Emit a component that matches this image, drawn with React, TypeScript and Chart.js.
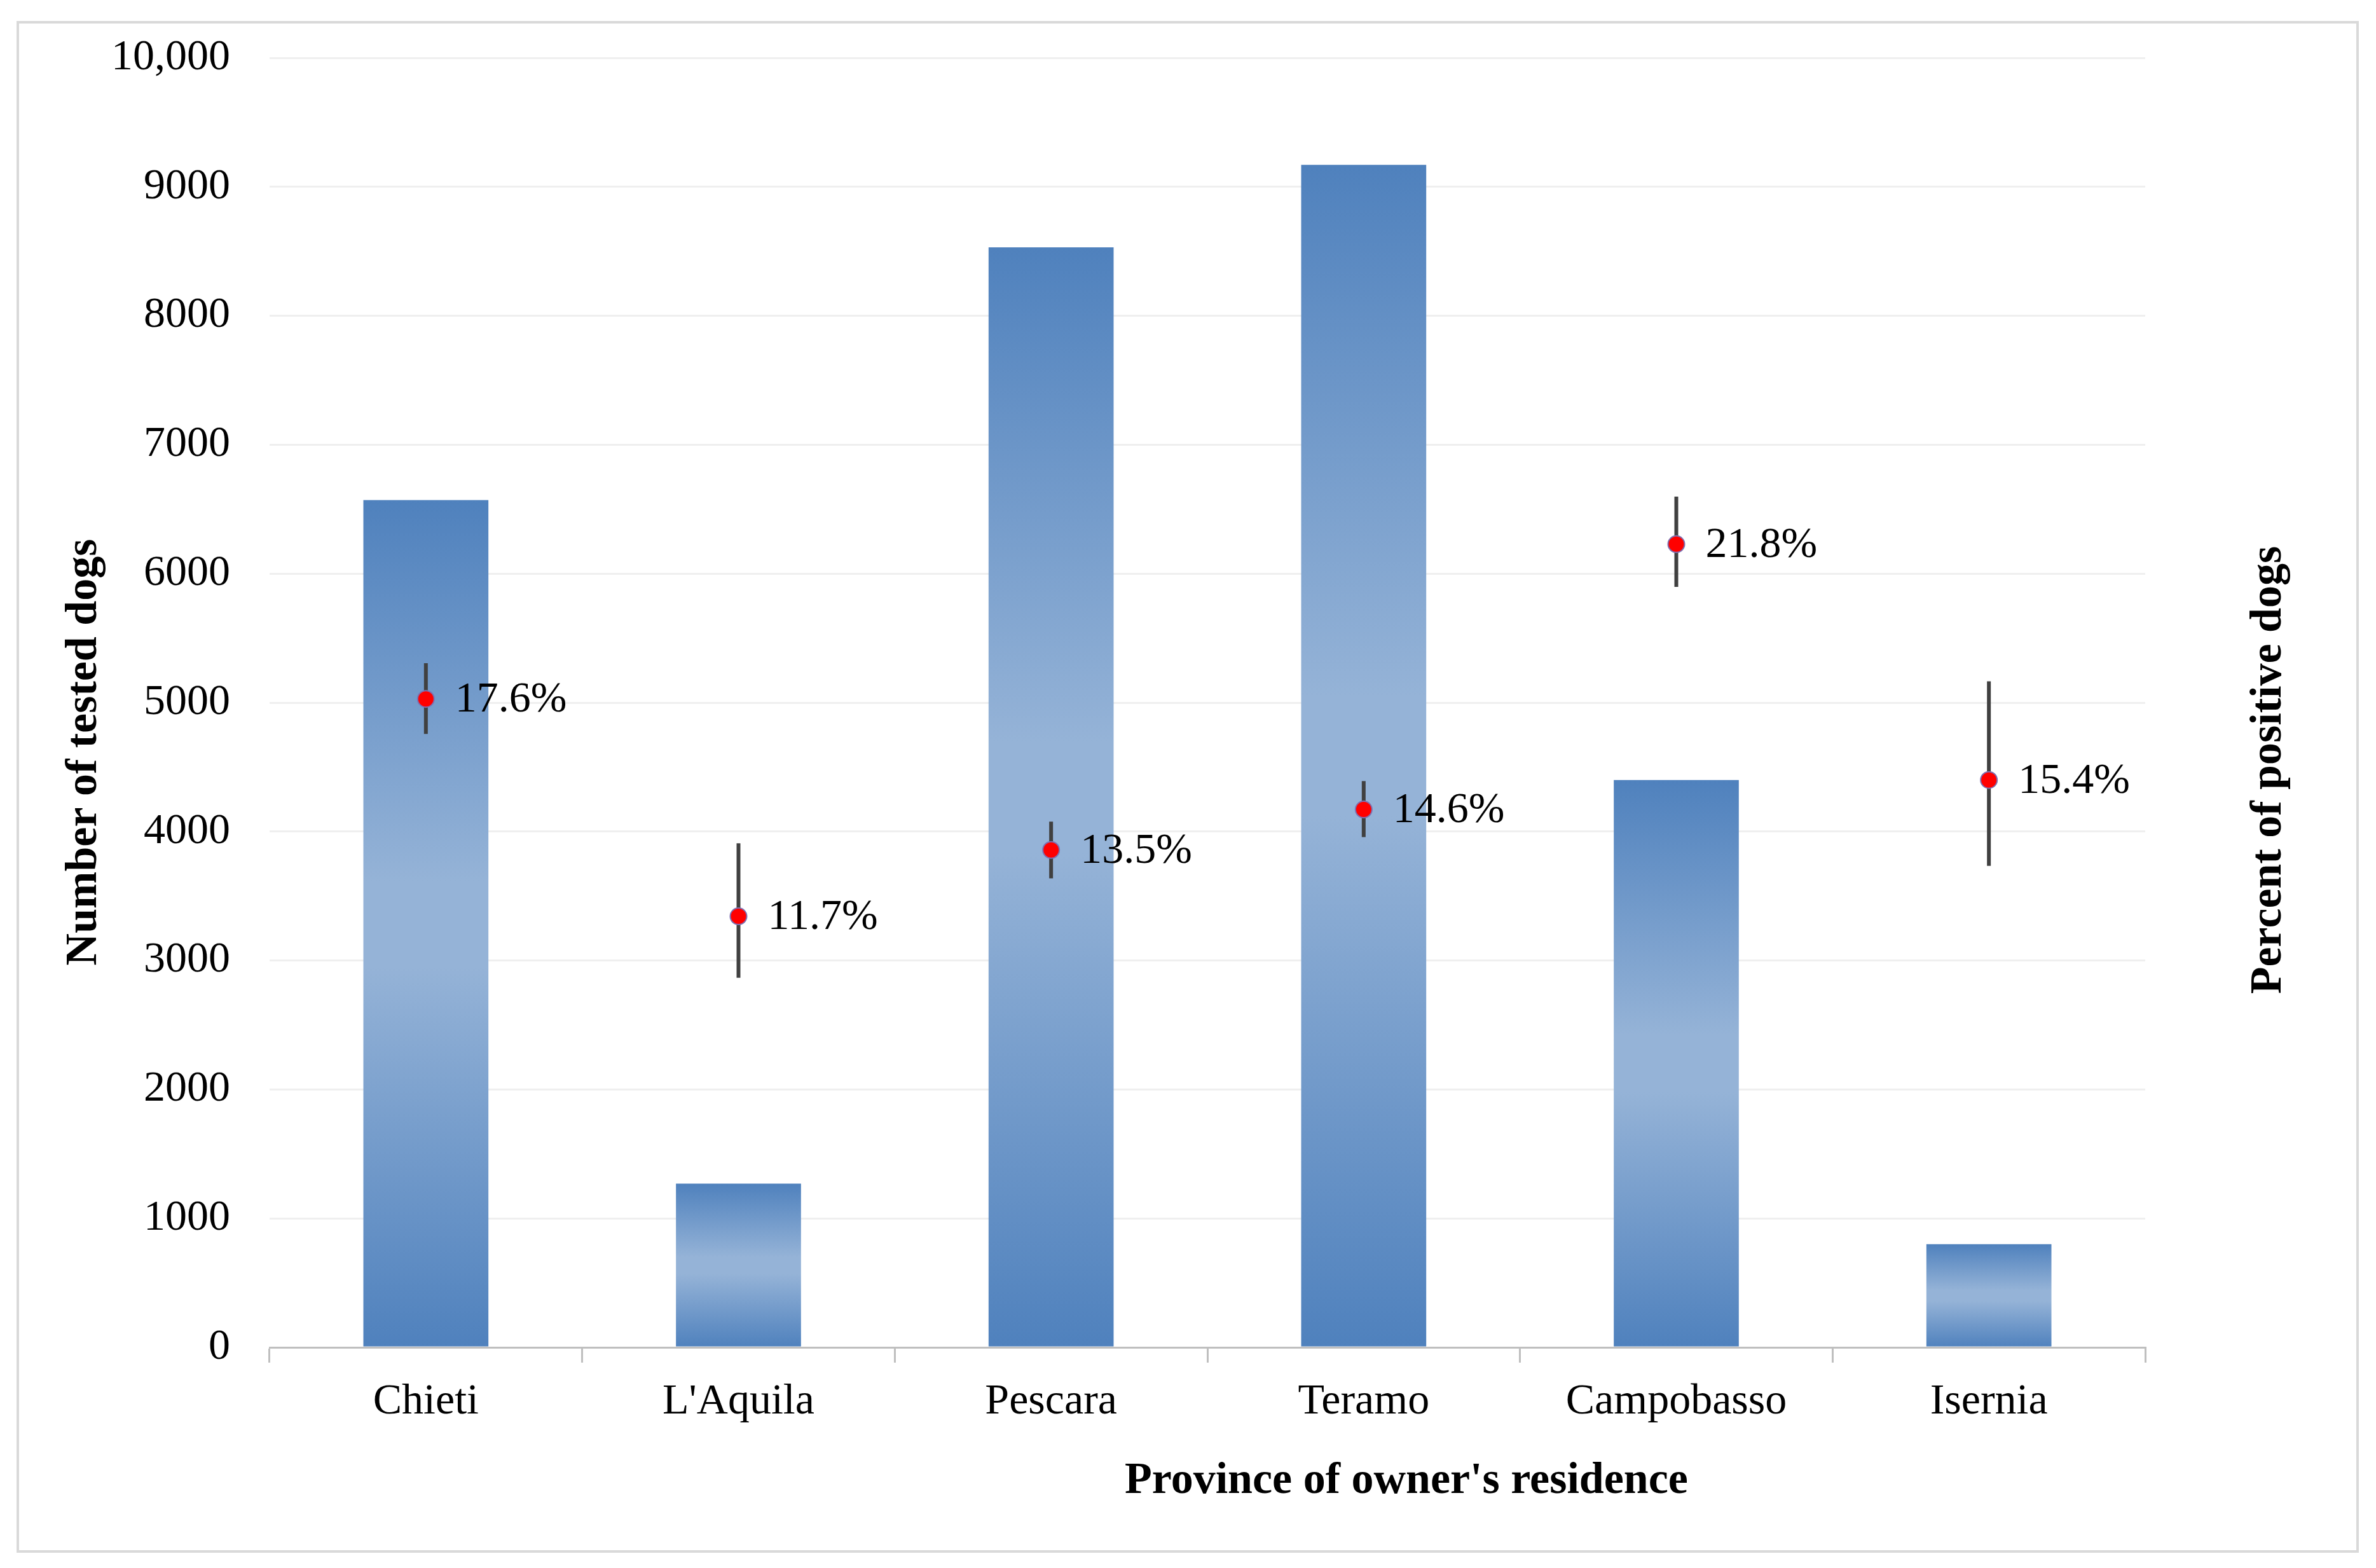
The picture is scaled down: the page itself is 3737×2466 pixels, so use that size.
import React, { useEffect, useRef } from 'react';
import { Chart, registerables } from 'chart.js';

Chart.register(...registerables);

const categories = ['Chieti', "L'Aquila", 'Pescara', 'Teramo', 'Campobasso', 'Isernia'];
const testedDogs = [6570, 1270, 8530, 9170, 4400, 800];
const percentPositive = [17.6, 11.7, 13.5, 14.6, 21.8, 15.4];
const ciLower = [16.65, 10.03, 12.73, 13.85, 20.64, 13.07];
const ciUpper = [18.57, 13.68, 14.27, 15.37, 23.09, 18.08];
const yTickLabels = ['0', '1000', '2000', '3000', '4000', '5000', '6000', '7000', '8000', '9000', '10,000'];
const percentLabels = percentPositive.map((v) => v.toFixed(1) + '%');

const leftTitle = 'Number of tested dogs';
const rightTitle = 'Percent of positive dogs';
const bottomTitle = "Province of owner's residence";

const FONT = '"Liberation Serif", "Times New Roman", serif';

export default function App() {
  const canvasRef = useRef<HTMLCanvasElement | null>(null);

  useEffect(() => {
    const canvas = canvasRef.current;
    if (!canvas) return;

    const framePlugin = {
      id: 'frame',
      beforeDraw(chart: any) {
        const ctx = chart.ctx;
        ctx.save();
        ctx.fillStyle = '#ffffff';
        ctx.fillRect(0, 0, chart.width, chart.height);
        ctx.strokeStyle = '#d9d9d9';
        ctx.lineWidth = 4;
        ctx.strokeRect(28, 35, 3680, 2405);
        ctx.restore();
      },
    };

    const errorBarPlugin = {
      id: 'errorBars',
      afterDatasetDraw(chart: any, args: any) {
        if (args.index !== 0) return;
        const meta = chart.getDatasetMeta(1);
        const y1 = chart.scales.y1;
        const ctx = chart.ctx;
        ctx.save();
        ctx.strokeStyle = '#404040';
        ctx.lineWidth = 6;
        meta.data.forEach((pt: any, i: number) => {
          const top = y1.getPixelForValue(ciUpper[i]);
          const bot = y1.getPixelForValue(ciLower[i]);
          ctx.beginPath();
          ctx.moveTo(pt.x, top);
          ctx.lineTo(pt.x, bot);
          ctx.stroke();
        });
        ctx.restore();
      },
    };

    const labelsPlugin = {
      id: 'pointLabels',
      afterDatasetsDraw(chart: any) {
        const meta = chart.getDatasetMeta(1);
        const ctx = chart.ctx;
        ctx.save();
        ctx.fillStyle = '#000000';
        ctx.font = `68px ${FONT}`;
        ctx.textAlign = 'left';
        ctx.textBaseline = 'middle';
        meta.data.forEach((pt: any, i: number) => {
          ctx.fillText(percentLabels[i], pt.x + 46, pt.y + 2);
        });
        ctx.restore();
      },
    };

    const titlesPlugin = {
      id: 'axisTitles',
      afterDraw(chart: any) {
        const ctx = chart.ctx;
        ctx.save();
        ctx.fillStyle = '#000000';
        ctx.font = `bold 70px ${FONT}`;
        ctx.textAlign = 'center';
        ctx.textBaseline = 'middle';
        ctx.fillText(bottomTitle, 2212, 2330);

        ctx.save();
        ctx.translate(133, 1183);
        ctx.rotate(-Math.PI / 2);
        ctx.fillText(leftTitle, 0, 0);
        ctx.restore();

        ctx.save();
        ctx.translate(3569, 1211);
        ctx.rotate(-Math.PI / 2);
        ctx.fillText(rightTitle, 0, 0);
        ctx.restore();

        ctx.restore();
      },
    };

    const barGradient = (context: any) => {
      const chart = context.chart;
      const yScale = chart.scales && chart.scales.y;
      if (!yScale || context.dataIndex === undefined) return '#4f81bd';
      const v = testedDogs[context.dataIndex];
      const top = yScale.getPixelForValue(v);
      const bottom = yScale.getPixelForValue(0);
      if (!isFinite(top) || !isFinite(bottom) || top === bottom) return '#4f81bd';
      const g = chart.ctx.createLinearGradient(0, top, 0, bottom);
      g.addColorStop(0, '#4f81bd');
      g.addColorStop(0.45, '#95b3d7');
      g.addColorStop(0.55, '#95b3d7');
      g.addColorStop(1, '#4f81bd');
      return g;
    };

    const chart = new Chart(canvas, {
      type: 'bar',
      data: {
        labels: categories,
        datasets: [
          {
            type: 'bar',
            label: 'Number of tested dogs',
            data: testedDogs,
            yAxisID: 'y',
            backgroundColor: barGradient,
            borderWidth: 0,
            barPercentage: 0.4,
            categoryPercentage: 1,
            order: 2,
          },
          {
            type: 'line',
            label: 'Percent of positive dogs',
            data: percentPositive,
            yAxisID: 'y1',
            showLine: false,
            pointRadius: 13,
            pointHoverRadius: 13,
            pointBackgroundColor: '#ff0000',
            pointBorderColor: '#7f6fb0',
            pointBorderWidth: 2,
            order: 1,
          } as any,
        ],
      },
      options: {
        responsive: false,
        animation: false,
        devicePixelRatio: 1,
        layout: { padding: { top: 91, left: 0, right: 0, bottom: 0 } },
        plugins: {
          legend: { display: false },
          tooltip: { enabled: false },
          title: { display: false },
        },
        scales: {
          x: {
            type: 'category',
            offset: true,
            grid: {
              display: true,
              offset: true,
              drawOnChartArea: false,
              drawTicks: true,
              tickLength: 24,
              color: '#bfbfbf',
              lineWidth: 3,
            },
            border: { display: true, color: '#bfbfbf', width: 3 },
            ticks: {
              color: '#000000',
              font: { family: FONT, size: 68 },
              padding: 21,
              maxRotation: 0,
              autoSkip: false,
            },
            afterFit(scale: any) {
              scale.height = 347;
            },
          },
          y: {
            type: 'linear',
            position: 'left',
            min: 0,
            max: 10000,
            grid: {
              display: true,
              drawTicks: false,
              color: '#efefef',
              lineWidth: 3,
            },
            border: { display: false },
            ticks: {
              stepSize: 1000,
              color: '#000000',
              font: { family: FONT, size: 68 },
              padding: 62,
              callback: (_v: any, i: number) => yTickLabels[i],
            },
            afterFit(scale: any) {
              scale.width = 424;
              scale.paddingTop = 0;
              scale.paddingBottom = 0;
            },
          },
          y1: {
            type: 'linear',
            position: 'right',
            min: 0,
            max: 35,
            grid: { display: false, drawTicks: false },
            border: { display: false },
            ticks: { display: false },
            afterFit(scale: any) {
              scale.width = 363;
              scale.paddingTop = 0;
              scale.paddingBottom = 0;
            },
          },
        },
      } as any,
      plugins: [framePlugin, errorBarPlugin, labelsPlugin, titlesPlugin],
    });

    return () => {
      chart.destroy();
    };
  }, []);

  return (
    <div style={{ position: 'absolute', left: 0, top: 0, width: 3737, height: 2466, background: '#ffffff' }}>
      <canvas ref={canvasRef} width={3737} height={2466} style={{ display: 'block', width: 3737, height: 2466 }} />
    </div>
  );
}
